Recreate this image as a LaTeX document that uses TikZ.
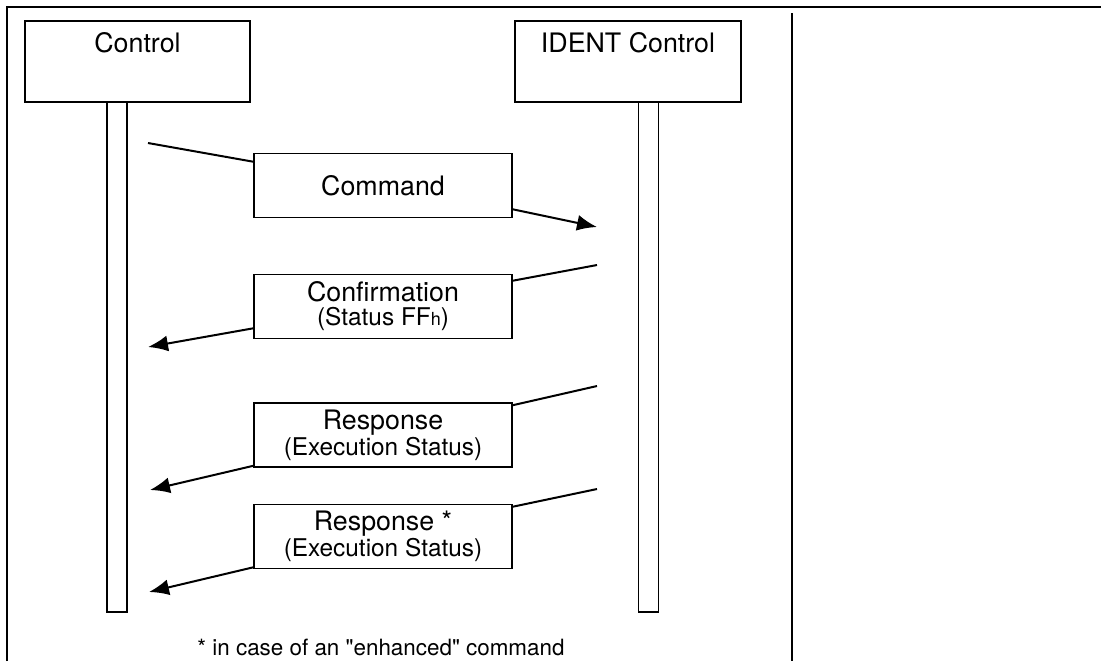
\documentclass[tikz,border=0pt]{standalone}
\usepackage{fontspec}
\setmainfont{TeX Gyre Heros}
\usetikzlibrary{arrows.meta,positioning}

\newcommand\msgfont{\fontsize{13.4}{13.5}\selectfont}
\newcommand\subfont{\fontsize{12.2}{13.5}\selectfont}
\newcommand\notefont{\fontsize{11.2}{13}\selectfont}

\tikzset{
	headbox/.style={rectangle,draw,line width=0.8pt,minimum width=112.5pt,minimum height=40.5pt,inner sep=0pt},
	lifeline/.style={rectangle,draw,line width=0.8pt,minimum width=10pt,minimum height=255pt,inner sep=0pt},
	msgbox/.style={rectangle,draw,line width=0.8pt,minimum width=129pt,minimum height=32pt,inner sep=0pt,align=center},
	msgline/.style={draw,line width=1pt},
	msgarrow/.style={draw,line width=1pt,-{Latex[length=10pt,width=8pt]}},
	frame/.style={draw,line width=1pt}
}

\begin{document}
\begin{tikzpicture}[x=0.5pt,y=-0.5pt]
	\useasboundingbox (0,0) rectangle (1101,661);
	% page frame
	\draw[frame] (7,661) -- (7,7) -- (1101,7);
	\draw[frame] (792,13) -- (792,661);

	% heads and lifelines
	\node[headbox] (ctl) at (137.5,61.5) {};
	\node[headbox,minimum width=113pt] (idc) at (628,61.5) {};
	\node[inner sep=0pt,below=6pt of ctl.north] (ctltxt) {\msgfont Control};
	\node[inner sep=0pt,below=6pt of idc.north] (idctxt) {\msgfont IDENT Control};
	\node[lifeline] (lc) at (117,357) {};
	\node[lifeline] (li) at (648.5,357) {};

	% messages
	\node[msgbox] (cmd) at (383,185.5) {\msgfont Command};
	\node[msgbox] (cnf) at (383,306.5) {\msgfont Confirmation\\\subfont (Status FF{\fontsize{9}{9}\selectfont h})};
	\node[msgbox] (rsp) at (383,435) {\msgfont Response\\\subfont (Execution Status)};
	\node[msgbox] (rsx) at (383,536.5) {\msgfont Response *\\\subfont (Execution Status)};

	\coordinate (c0) at (148,143);
	\coordinate (c1) at (597,227);
	\coordinate (f0) at (597,265);
	\coordinate (f1) at (148,347);
	\coordinate (r0) at (597,386);
	\coordinate (r1) at (150,490);
	\coordinate (s0) at (597,489);
	\coordinate (s1) at (149,592);

	\path[msgline] (c0) -- ([yshift=-4.5pt]cmd.north west);
	\path[msgarrow] ([yshift=4.5pt]cmd.south east) -- (c1);
	\path[msgline] (f0) -- ([yshift=-3.5pt]cnf.north east);
	\path[msgarrow] ([yshift=5.5pt]cnf.south west) -- (f1);
	\path[msgline] (r0) -- ([yshift=-1.5pt]rsp.north east);
	\path[msgarrow] ([yshift=1pt]rsp.south west) -- (r1);
	\path[msgline] (s0) -- ([yshift=-1.5pt]rsx.north east);
	\path[msgarrow] ([yshift=1pt]rsx.south west) -- (s1);

	\node[anchor=base,inner sep=0pt] (note) at (381,655) {\notefont * in case of an \textquotedbl enhanced\textquotedbl{} command};
\end{tikzpicture}
\end{document}
